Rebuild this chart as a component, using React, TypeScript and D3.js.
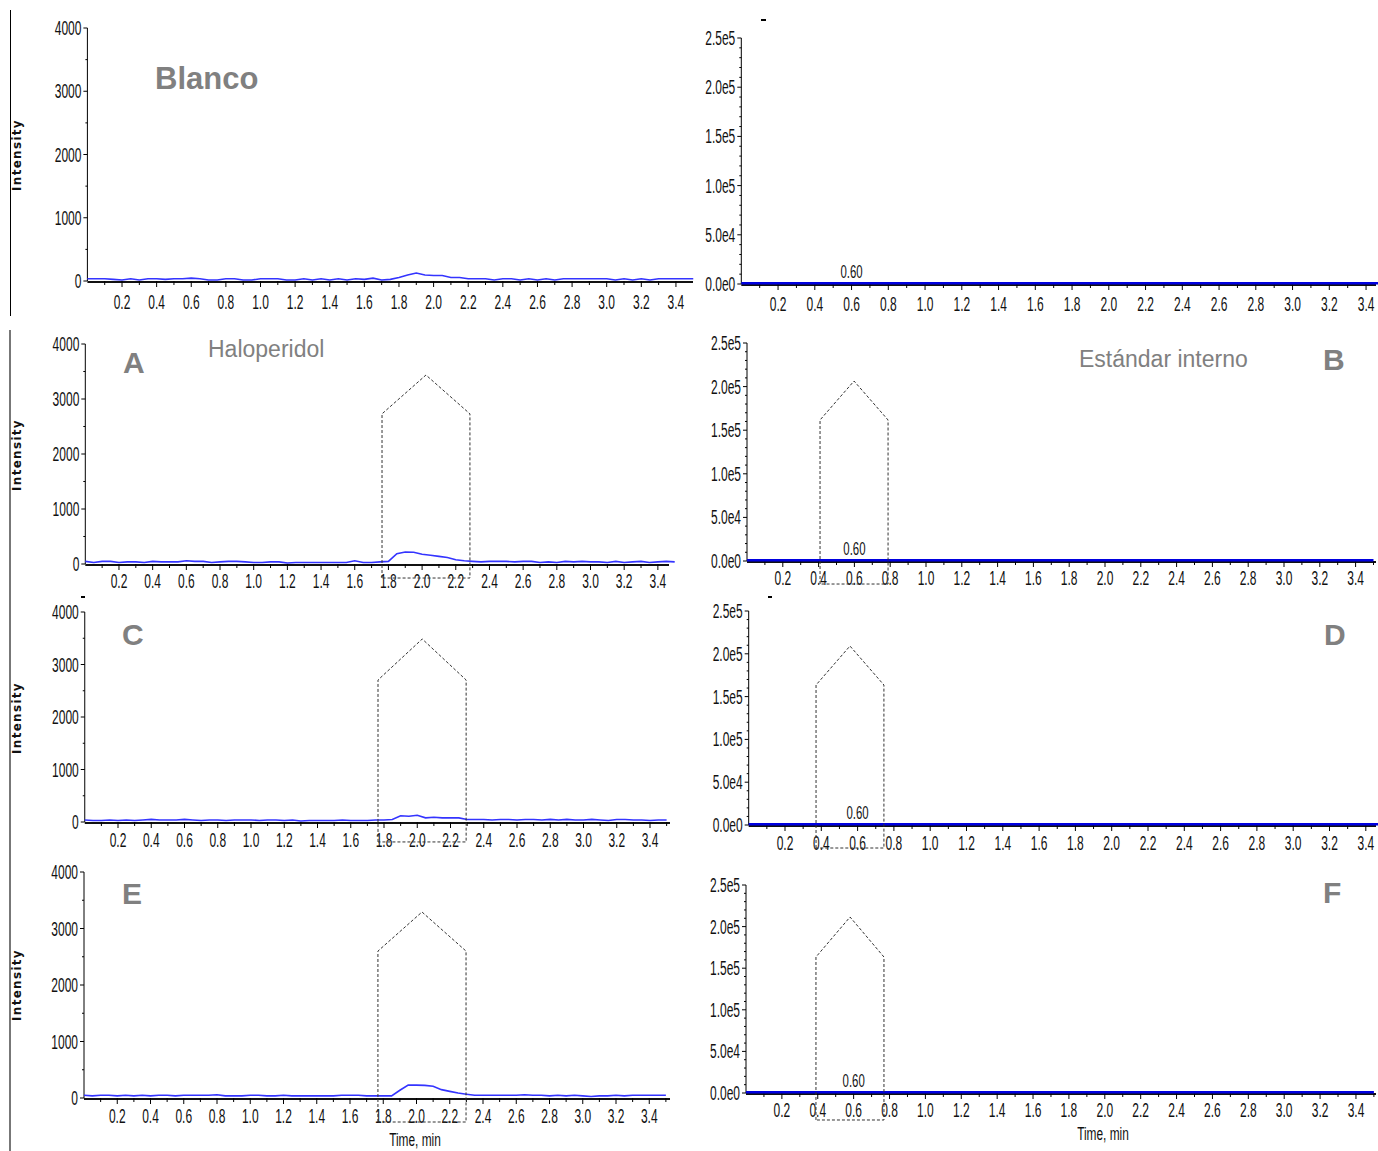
import React, { useEffect } from "react";
import * as d3 from "d3";

// ---------- DATA ----------
const TIMES = [
  0.0, 0.05, 0.1, 0.15, 0.2, 0.25, 0.3, 0.35, 0.4, 0.45,
  0.5, 0.55, 0.6, 0.65, 0.7, 0.75, 0.8, 0.85, 0.9, 0.95,
  1.0, 1.05, 1.1, 1.15, 1.2, 1.25, 1.3, 1.35, 1.4, 1.45,
  1.5, 1.55, 1.6, 1.65, 1.7, 1.75, 1.8, 1.85, 1.9, 1.95,
  2.0, 2.05, 2.1, 2.15, 2.2, 2.25, 2.3, 2.35, 2.4, 2.45,
  2.5, 2.55, 2.6, 2.65, 2.7, 2.75, 2.8, 2.85, 2.9, 2.95,
  3.0, 3.05, 3.1, 3.15, 3.2, 3.25, 3.3, 3.35, 3.4, 3.45,
  3.5,
];

const BLANCO_INTENSITY = [
  20, 20, 20, 10, 0, 20, 0, 20, 20, 10,
  20, 20, 30, 20, 0, 0, 20, 20, 0, 0,
  20, 20, 20, 0, 0, 20, 0, 20, 0, 20,
  0, 20, 10, 30, 0, 10, 40, 80, 110, 80,
  70, 70, 40, 40, 20, 20, 20, 0, 20, 20,
  0, 20, 0, 20, 0, 20, 20, 20, 20, 20,
  20, 0, 20, 0, 20, 0, 20, 20, 20, 20,
  20,
];

const HALOPERIDOL_A = [
  30, 10, 30, 30, 10, 20, 20, 10, 30, 20,
  20, 20, 40, 30, 30, 10, 20, 30, 30, 20,
  10, 10, 20, 20, 0, 10, 10, 10, 10, 10,
  10, 10, 40, 10, 10, 20, 30, 170, 200, 195,
  160, 140, 120, 100, 60, 40, 30, 20, 30, 30,
  30, 20, 30, 30, 10, 20, 10, 30, 20, 30,
  20, 20, 10, 30, 10, 20, 30, 10, 20, 30,
  20,
];

const HALOPERIDOL_C = [
  20, 10, 10, 20, 10, 20, 10, 20, 30, 20,
  20, 20, 30, 20, 10, 20, 20, 10, 20, 20,
  20, 10, 20, 20, 10, 20, 0, 10, 10, 10,
  10, 20, 10, 10, 10, 20, 20, 30, 100, 90,
  110, 60, 70, 60, 60, 60, 30, 30, 30, 20,
  30, 30, 20, 30, 30, 20, 30, 20, 30, 20,
  20, 30, 20, 10, 30, 30, 20, 20, 10, 20,
  20,
];

const HALOPERIDOL_E = [
  30, 20, 30, 30, 20, 30, 20, 30, 20, 30,
  30, 20, 30, 30, 30, 30, 40, 20, 20, 20,
  30, 30, 20, 20, 30, 20, 20, 20, 20, 20,
  20, 30, 30, 30, 20, 20, 20, 20, 120, 210,
  210, 205, 190, 130, 100, 70, 50, 30, 30, 30,
  30, 30, 30, 40, 30, 30, 20, 30, 20, 30,
  20, 10, 20, 20, 30, 20, 30, 30, 30, 30,
  30,
];

const ISTD_TIMES = [0.0, 3.5];
const ISTD_INTENSITY = [0, 0];

const X_TICKS = [0.2, 0.4, 0.6, 0.8, 1.0, 1.2, 1.4, 1.6, 1.8, 2.0, 2.2, 2.4, 2.6, 2.8, 3.0, 3.2, 3.4];
const X_MINOR_TICKS = [0.1, 0.3, 0.5, 0.7, 0.9, 1.1, 1.3, 1.5, 1.7, 1.9, 2.1, 2.3, 2.5, 2.7, 2.9, 3.1, 3.3, 3.5];

const INTENSITY_TICKS = [0, 1000, 2000, 3000, 4000];
const INTENSITY_MINOR_TICKS = [500, 1500, 2500, 3500];

const ISTD_TICKS = [0, 50000, 100000, 150000, 200000, 250000];
const ISTD_TICK_LABELS = ["0.0e0", "5.0e4", "1.0e5", "1.5e5", "2.0e5", "2.5e5"];
const ISTD_MINOR_TICKS = [
  10000, 20000, 30000, 40000, 60000, 70000, 80000, 90000,
  110000, 120000, 130000, 140000, 160000, 170000, 180000, 190000,
  210000, 220000, 230000, 240000,
];

// Integration windows, panels A..F
const WINDOW_PANELS = ["A", "B", "C", "D", "E", "F"];
const WINDOW_START = [1.762, 0.408, 1.764, 0.371, 1.768, 0.39];
const WINDOW_END = [2.284, 0.788, 2.294, 0.745, 2.298, 0.769];
const WINDOW_APEX_TIME = [2.023, 0.598, 2.03, 0.558, 2.033, 0.58];
const WINDOW_SHOULDER = [2730, 161700, 2705, 163550, 2600, 163460];
const WINDOW_APEX = [3436, 206400, 3486, 209100, 3292, 211540];
const WINDOW_BASE = [-255, -26400, -380, -26870, -425, -32450];

const RT_VALUE = 0.6;
const RT_LABEL = "0.60";

// ---------- LAYOUT ----------
type Layout = { axisX: number; unit: number; right: number; y0: number; yTop: number; labelDy: number };
const LAYOUT: Record<string, Layout> = {
  blanco: { axisX: 87.4, unit: 173.1, right: 693, y0: 281, yTop: 28, labelDy: 28 },
  tr: { axisX: 741.3, unit: 183.75, right: 1376, y0: 284, yTop: 38, labelDy: 27 },
  A: { axisX: 85.3, unit: 168.4, right: 669, y0: 564, yTop: 344, labelDy: 24 },
  B: { axisX: 747, unit: 179, right: 1376, y0: 561, yTop: 343, labelDy: 24 },
  C: { axisX: 84.75, unit: 166.25, right: 670, y0: 822, yTop: 612, labelDy: 25 },
  D: { axisX: 748.7, unit: 181.5, right: 1376, y0: 825, yTop: 611, labelDy: 25 },
  E: { axisX: 84, unit: 166.25, right: 670, y0: 1098, yTop: 872, labelDy: 25 },
  F: { axisX: 746, unit: 179.4, right: 1376, y0: 1093, yTop: 885, labelDy: 24 },
};

const NARROW_FONT = "'Liberation Sans', Arial, sans-serif";
const GRAY = "#808080";
const fmtX = d3.format(".1f");

function NT({ x, y, anchor = "middle", size = 20, sx = 0.6, children }: any) {
  return (
    <text
      transform={`translate(${x},${y}) scale(${sx},1)`}
      textAnchor={anchor}
      fontSize={size}
      fontFamily={NARROW_FONT}
      fill="#111"
    >
      {children}
    </text>
  );
}

function Panel({ lay, kind, times, values, win, rt }: any) {
  const xMax = (lay.right - lay.axisX) / lay.unit;
  const x = d3.scaleLinear().domain([0, xMax]).range([lay.axisX, lay.right]);
  const yMaxVal = kind === "left" ? 4000 : 250000;
  const y = d3.scaleLinear().domain([0, yMaxVal]).range([lay.y0, lay.yTop]);
  const majorTicks = kind === "left" ? INTENSITY_TICKS : ISTD_TICKS;
  const minorTicks = kind === "left" ? INTENSITY_MINOR_TICKS : ISTD_MINOR_TICKS;
  const tickLabel = (v: number, i: number) => (kind === "left" ? String(v) : ISTD_TICK_LABELS[i]);

  const pts = times.map((t: number, i: number) => [t, values[i]] as [number, number]);
  const line = d3
    .line<[number, number]>()
    .x((d) => x(d[0]))
    .y((d) => y(d[1]));

  let winPath: string | null = null;
  if (win !== undefined && win !== null) {
    const wp: [number, number][] = [
      [WINDOW_START[win], WINDOW_BASE[win]],
      [WINDOW_START[win], WINDOW_SHOULDER[win]],
      [WINDOW_APEX_TIME[win], WINDOW_APEX[win]],
      [WINDOW_END[win], WINDOW_SHOULDER[win]],
      [WINDOW_END[win], WINDOW_BASE[win]],
      [WINDOW_START[win], WINDOW_BASE[win]],
    ];
    winPath = line(wp);
  }

  return (
    <g>
      {/* y axis */}
      <line x1={lay.axisX} x2={lay.axisX} y1={lay.yTop} y2={lay.y0} stroke="#000" strokeWidth={1} />
      {majorTicks.map((v: number, i: number) => (
        <g key={"ym" + v}>
          <line x1={lay.axisX - 4} x2={lay.axisX} y1={y(v)} y2={y(v)} stroke="#000" strokeWidth={1} />
          <NT x={lay.axisX - 6} y={y(v) + 7} anchor="end">
            {tickLabel(v, i)}
          </NT>
        </g>
      ))}
      {minorTicks.map((v: number) => (
        <line key={"yn" + v} x1={lay.axisX - 2} x2={lay.axisX} y1={y(v)} y2={y(v)} stroke="#000" strokeWidth={1} />
      ))}
      {/* x axis */}
      <line x1={lay.axisX} x2={lay.right} y1={lay.y0 + 1} y2={lay.y0 + 1} stroke="#111" strokeWidth={2} />
      {X_TICKS.filter((v) => v <= xMax).map((v) => (
        <g key={"xm" + v}>
          <line x1={x(v)} x2={x(v)} y1={lay.y0} y2={lay.y0 + 6} stroke="#000" strokeWidth={1} />
          <NT x={x(v)} y={lay.y0 + lay.labelDy}>
            {fmtX(v)}
          </NT>
        </g>
      ))}
      {X_MINOR_TICKS.filter((v) => v <= xMax).map((v) => (
        <line key={"xn" + v} x1={x(v)} x2={x(v)} y1={lay.y0} y2={lay.y0 + 4} stroke="#000" strokeWidth={1} />
      ))}
      {/* trace */}
      <path
        d={line(pts) || ""}
        fill="none"
        stroke={kind === "left" ? "#3434ff" : "#0000e0"}
        strokeWidth={kind === "left" ? 1.6 : 2.6}
        transform={kind === "left" ? "translate(0,-1)" : "translate(0,-0.8)"}
      />
      {winPath && (
        <path d={winPath} fill="none" stroke="#333" strokeWidth={1} strokeDasharray="3,2" />
      )}
      {rt && (
        <NT x={x(RT_VALUE)} y={lay.y0 - 6} size={19}>
          {RT_LABEL}
        </NT>
      )}
    </g>
  );
}

function Intensity({ cy }: { cy: number }) {
  return (
    <text
      transform={`translate(21,${cy}) rotate(-90)`}
      textAnchor="middle"
      fontSize={12}
      fontWeight="bold"
      letterSpacing={1.3}
      fontFamily="'DejaVu Sans', Verdana, sans-serif"
      fill="#111"
    >
      Intensity
    </text>
  );
}

export default function App() {
  useEffect(() => {
    document.body.style.margin = "0";
  }, []);
  const labelStyle = { fontFamily: "'Liberation Sans', Arial, sans-serif", fill: GRAY };
  return (
    <svg
      width={1378}
      height={1151}
      viewBox="0 0 1378 1151"
      style={{ position: "absolute", left: 0, top: 0, background: "#fff" }}
    >
      <rect x={0} y={0} width={1378} height={1151} fill="#fff" />
      {/* left border lines */}
      <line x1={10.5} x2={10.5} y1={10} y2={316} stroke="#000" strokeWidth={1} />
      <line x1={10} x2={10} y1={330} y2={1151} stroke="#777" strokeWidth={2} />

      <Panel lay={LAYOUT.blanco} kind="left" times={TIMES} values={BLANCO_INTENSITY} />
      <Panel lay={LAYOUT.tr} kind="right" times={ISTD_TIMES} values={ISTD_INTENSITY} rt />
      <Panel lay={LAYOUT.A} kind="left" times={TIMES} values={HALOPERIDOL_A} win={WINDOW_PANELS.indexOf("A")} />
      <Panel lay={LAYOUT.B} kind="right" times={ISTD_TIMES} values={ISTD_INTENSITY} win={WINDOW_PANELS.indexOf("B")} rt />
      <Panel lay={LAYOUT.C} kind="left" times={TIMES} values={HALOPERIDOL_C} win={WINDOW_PANELS.indexOf("C")} />
      <Panel lay={LAYOUT.D} kind="right" times={ISTD_TIMES} values={ISTD_INTENSITY} win={WINDOW_PANELS.indexOf("D")} rt />
      <Panel lay={LAYOUT.E} kind="left" times={TIMES} values={HALOPERIDOL_E} win={WINDOW_PANELS.indexOf("E")} />
      <Panel lay={LAYOUT.F} kind="right" times={ISTD_TIMES} values={ISTD_INTENSITY} win={WINDOW_PANELS.indexOf("F")} rt />

      <Intensity cy={155} />
      <Intensity cy={455} />
      <Intensity cy={718} />
      <Intensity cy={985} />

      {/* small remnant marks */}
      <line x1={761} x2={766} y1={20} y2={20} stroke="#000" strokeWidth={2} />
      <line x1={81} x2={85} y1={597} y2={597} stroke="#000" strokeWidth={2} />
      <line x1={768} x2={772} y1={597} y2={597} stroke="#000" strokeWidth={2} />

      {/* annotations */}
      <text x={155} y={89} fontSize={31} fontWeight="bold" style={labelStyle}>Blanco</text>
      <text x={123} y={373} fontSize={30} fontWeight="bold" style={labelStyle}>A</text>
      <text x={208} y={357} fontSize={23} style={labelStyle}>Haloperidol</text>
      <text x={1079} y={367} fontSize={23} style={labelStyle}>Estándar interno</text>
      <text x={1323} y={370} fontSize={30} fontWeight="bold" style={labelStyle}>B</text>
      <text x={122} y={645} fontSize={30} fontWeight="bold" style={labelStyle}>C</text>
      <text x={1324} y={645} fontSize={30} fontWeight="bold" style={labelStyle}>D</text>
      <text x={122} y={904} fontSize={30} fontWeight="bold" style={labelStyle}>E</text>
      <text x={1323} y={903} fontSize={30} fontWeight="bold" style={labelStyle}>F</text>

      <NT x={415} y={1146} size={18} sx={0.66}>Time, min</NT>
      <NT x={1103} y={1140} size={18} sx={0.66}>Time, min</NT>
    </svg>
  );
}
